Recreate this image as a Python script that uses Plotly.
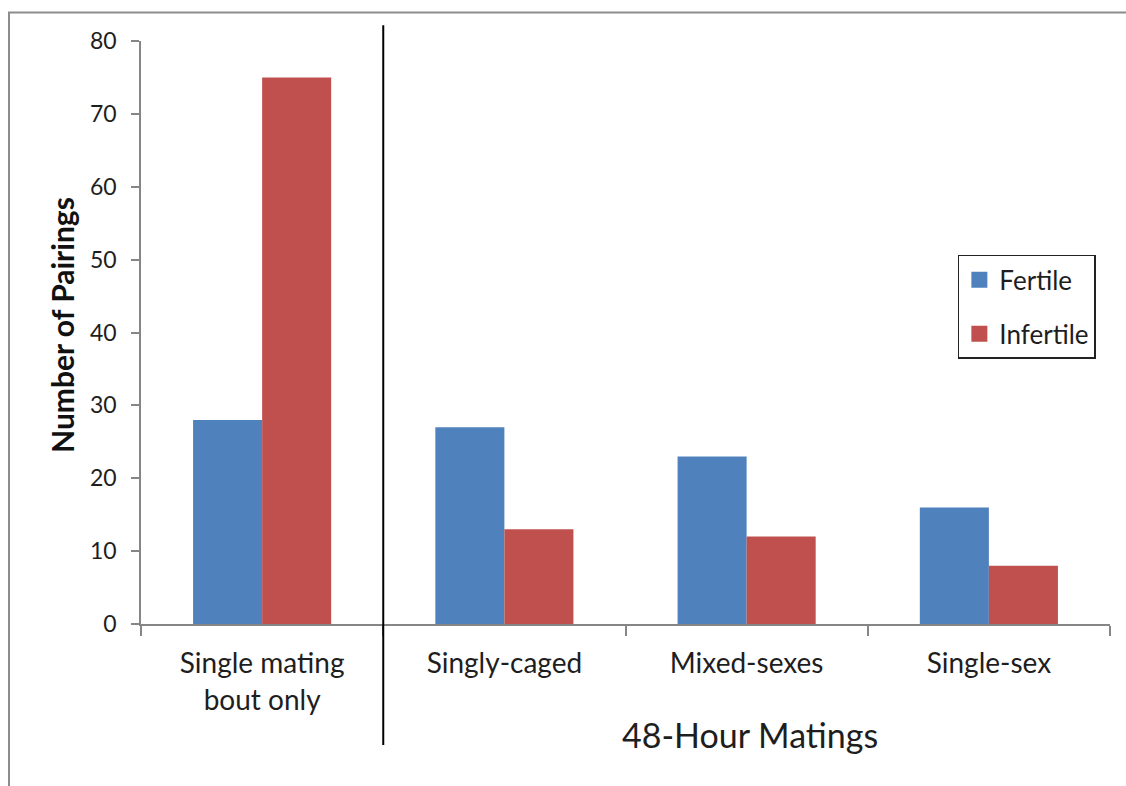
import plotly.graph_objects as go

# Mating condition categories and pairing counts
categories = ["Single mating<br>bout only", "Singly-caged", "Mixed-sexes", "Single-sex"]
fertile = [28, 27, 23, 16]
infertile = [75, 13, 12, 8]
y_ticks = [0, 10, 20, 30, 40, 50, 60, 70, 80]

FONT = "Lato, 'Open Sans', sans-serif"
AXIS_GREY = "#868686"
TEXT = "#1e1e1e"
BLUE = "#4F81BD"
RED = "#C0504D"

fig = go.Figure()
fig.add_trace(go.Bar(name="Fertile", x=categories, y=fertile, showlegend=False,
                     marker=dict(color=BLUE, line=dict(width=0))))
fig.add_trace(go.Bar(name="Infertile", x=categories, y=infertile, showlegend=False,
                     marker=dict(color=RED, line=dict(width=0))))

# Legend entries with larger square swatches
for name, color in [("Fertile", BLUE), ("Infertile", RED)]:
    fig.add_trace(go.Scatter(x=[None], y=[None], mode="markers", name=name,
                             legendgroup=name,
                             marker=dict(symbol="square", size=16, color=color)))

fig.update_layout(
    width=1126, height=786,
    margin=dict(l=141, r=16, t=41, b=162),
    paper_bgcolor="white", plot_bgcolor="white",
    barmode="group", bargap=0.43, bargroupgap=0,
    font=dict(family=FONT, color=TEXT),
    legend=dict(
        x=0.843, y=0.633, xanchor="left", yanchor="top",
        bordercolor="#222222", borderwidth=1.5, bgcolor="white",
        font=dict(size=26, family=FONT, color=TEXT),
        itemwidth=30, tracegroupgap=17,
    ),
    xaxis=dict(
        type="category", tickson="boundaries",
        showline=True, linecolor=AXIS_GREY, linewidth=1.5,
        ticks="outside", ticklen=10, tickcolor=AXIS_GREY, tickwidth=1.5,
        tickfont=dict(size=28, family=FONT, color=TEXT),
        ticklabelstandoff=14,
        showgrid=False, zeroline=False,
    ),
    yaxis=dict(
        range=[0, 80], tickvals=y_ticks,
        showline=True, linecolor=AXIS_GREY, linewidth=1.5,
        ticks="outside", ticklen=8, tickcolor=AXIS_GREY, tickwidth=1.5,
        tickfont=dict(size=23, family=FONT, color=TEXT),
        ticklabelstandoff=10,
        showgrid=False, zeroline=False,
    ),
)

# Y axis title
fig.add_annotation(text="<b>Number of Pairings</b>", xref="paper", yref="paper",
                   x=-0.0815, y=0.513, textangle=-90, xanchor="center", yanchor="middle",
                   showarrow=False, font=dict(size=30, family=FONT, color="#111111"))

# Group label under the three 48-hour conditions
fig.add_annotation(text="48-Hour Matings", xref="paper", yref="paper",
                   x=0.628, y=-0.19, xanchor="center", yanchor="middle",
                   showarrow=False, font=dict(size=34, family=FONT, color=TEXT))

# Vertical divider separating single-bout pairings from 48-hour matings
fig.add_shape(type="line", xref="x", yref="paper", x0=0.5, x1=0.5,
              y0=-0.2075, y1=1.027, line=dict(color="black", width=2))

# Outer chart frame
fig.add_shape(type="rect", xref="paper", yref="paper",
              x0=-0.1362, x1=1.03, y0=-0.3, y1=1.049,
              line=dict(color="#8c8c8c", width=2), layer="below")

fig.write_html("out.html")
